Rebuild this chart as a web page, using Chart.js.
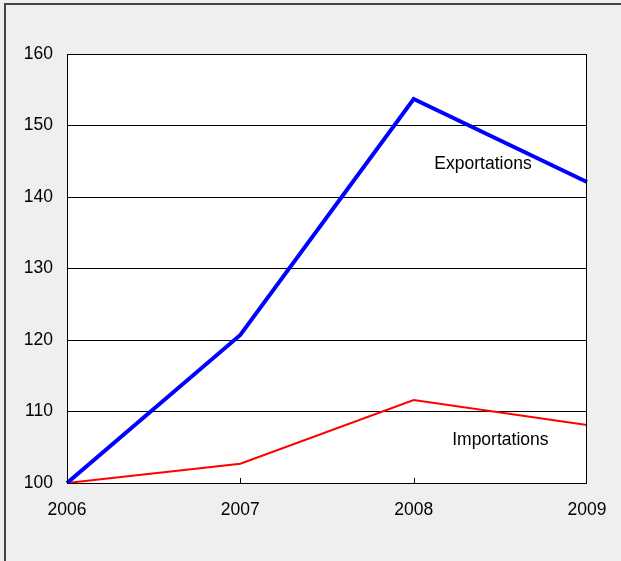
<!DOCTYPE html>
<html>
<head>
<meta charset="utf-8">
<script src="https://cdn.jsdelivr.net/npm/chart.js@4"></script>
<style>
  html, body { margin: 0; padding: 0; background: #efefef; }
  #wrap { width: 621px; height: 561px; position: relative; }
</style>
</head>
<body>
<div id="wrap"><canvas id="chart"></canvas></div>
<script>
const years = ['2006', '2007', '2008', '2009']
const exportations = [100, 120.7, 153.7, 142.1]
const importations = [100, 102.7, 111.6, 108.1]
const yTicks = [100, 110, 120, 130, 140, 150, 160]

// text labels placed in data units
const seriesLabels = [
  { text: 'Exportations', x: 2.4, y: 144.6 },
  { text: 'Importations', x: 2.5, y: 106 }
]

const fontFamily = '"Liberation Sans", Arial, sans-serif'

const frame = {
  id: 'frame',
  beforeDraw(chart) {
    const { ctx, chartArea: { left, top, width, height } } = chart
    ctx.save()
    ctx.fillStyle = '#ffffff'
    ctx.fillRect(left, top, width, height)
    // outer frame, top and left only
    ctx.strokeStyle = '#444'
    ctx.lineWidth = 2
    ctx.beginPath()
    ctx.moveTo(5, chart.height)
    ctx.lineTo(5, 4)
    ctx.lineTo(chart.width, 4)
    ctx.stroke()
    ctx.restore()
  },
  afterDatasetsDraw(chart) {
    const { ctx, chartArea: { left, top, right, bottom }, scales: { x, y } } = chart
    ctx.save()
    ctx.strokeStyle = '#000'
    ctx.lineWidth = 1
    ctx.strokeRect(left + 0.5, top + 0.5, right - left - 1, bottom - top)
    // small ticks pointing up from the x axis
    ctx.beginPath()
    for (let i = 1; i < years.length - 1; i++) {
      const px = Math.round(x.getPixelForValue(i)) + 0.5
      ctx.moveTo(px, bottom)
      ctx.lineTo(px, bottom - 5)
    }
    ctx.stroke()
    ctx.fillStyle = '#000'
    ctx.font = '17.5px ' + fontFamily
    ctx.textAlign = 'center'
    ctx.textBaseline = 'middle'
    seriesLabels.forEach(l => {
      ctx.fillText(l.text, x.getPixelForValue(l.x), y.getPixelForValue(l.y))
    })
    ctx.restore()
  }
}

new Chart(document.getElementById('chart'), {
  type: 'line',
  data: {
    labels: years,
    datasets: [
      { label: 'Exportations', data: exportations, borderColor: '#0000ff', borderWidth: 4, pointRadius: 0, tension: 0 },
      { label: 'Importations', data: importations, borderColor: '#ff0000', borderWidth: 2, pointRadius: 0, tension: 0 }
    ]
  },
  options: {
    responsive: true,
    maintainAspectRatio: false,
    animation: false,
    layout: { padding: { left: 6, top: 54, right: 34, bottom: 0 } },
    plugins: { legend: { display: false }, tooltip: { enabled: false } },
    scales: {
      x: {
        offset: false,
        grid: { display: false },
        border: { display: false },
        ticks: { color: '#000', font: { family: fontFamily, size: 17.5 }, padding: 9, maxRotation: 0 },
        afterFit(s) { s.height = 78 }
      },
      y: {
        min: 100,
        max: 160,
        afterBuildTicks(s) { s.ticks = yTicks.map(v => ({ value: v })) },
        grid: { color: '#000', lineWidth: 1, drawTicks: false },
        border: { display: false },
        ticks: { color: '#000', font: { family: fontFamily, size: 17.5 }, padding: 14 },
        afterFit(s) { s.width = 61 }
      }
    }
  },
  plugins: [frame]
})
</script>
</body>
</html>
